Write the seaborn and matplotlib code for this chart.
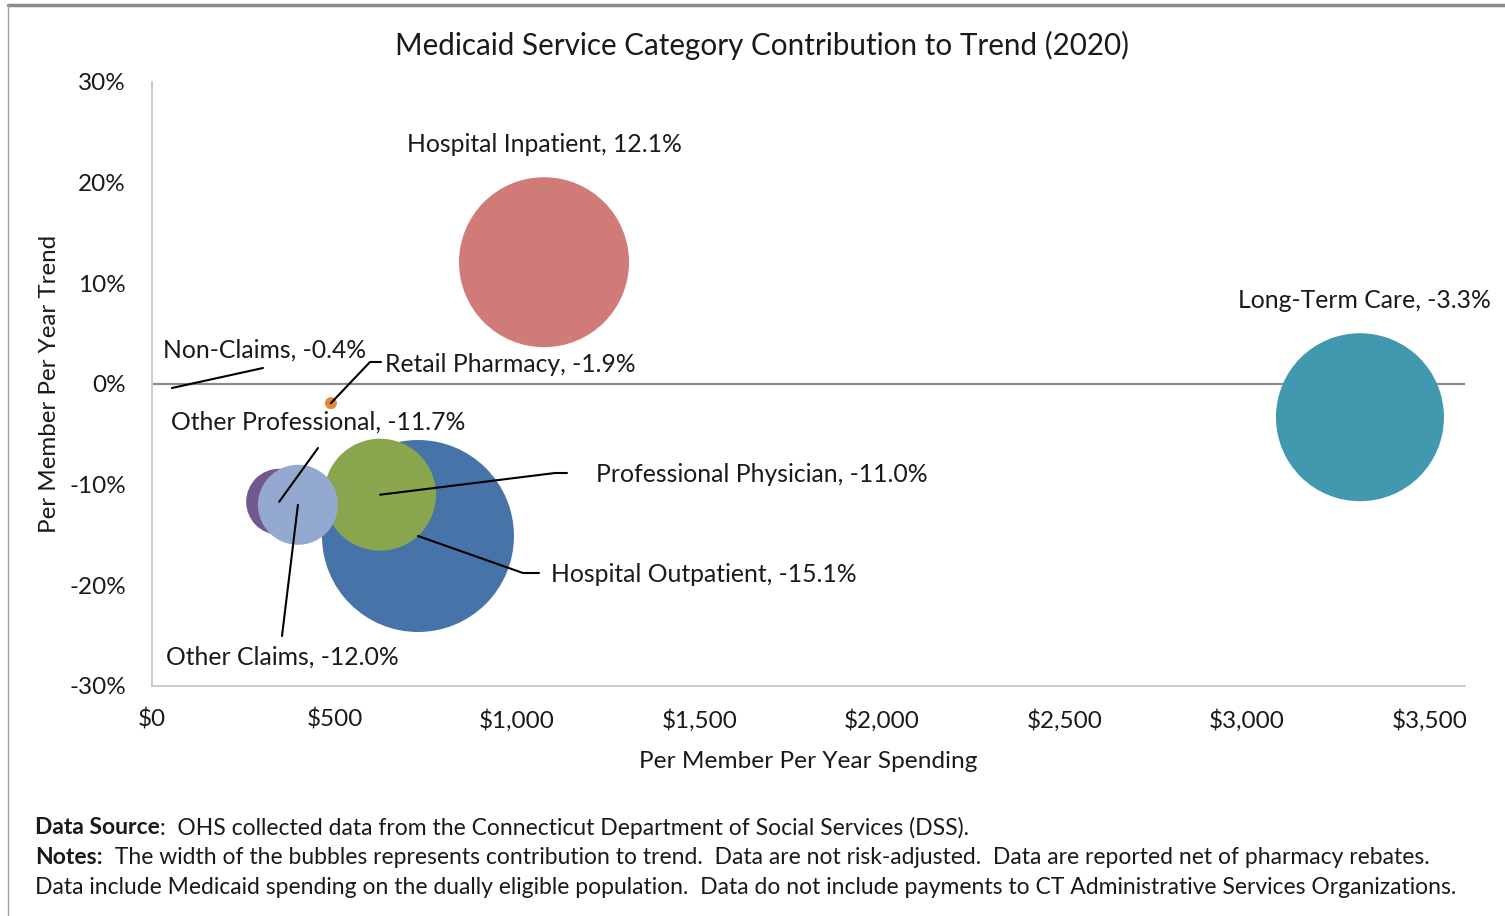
import matplotlib
matplotlib.use("Agg")
import matplotlib.pyplot as plt
import matplotlib.transforms as mtransforms
from matplotlib.lines import Line2D
import pandas as pd
import seaborn as sns

# values
categories = ["Hospital Inpatient", "Hospital Outpatient", "Professional Physician",
              "Other Professional", "Other Claims", "Long-Term Care",
              "Retail Pharmacy", "Non-Claims"]
pmpy_spending = [1045, 709, 608, 339, 389, 3220, 477, 53]
pmpy_trend = [12.1, -15.1, -11.0, -11.7, -12.0, -3.3, -1.9, -0.4]
# bubble width = contribution to trend (relative units, from bubble diameters)
contribution = [1.70, 1.92, 1.12, 0.66, 0.80, 1.68, 0.12, 0.0]
colors = ["#D07B78", "#4674A8", "#89A54E", "#71588F", "#93A9CF", "#4198AF",
          "#E2893B", "#FFFFFF"]

x_ticks = [0, 500, 1000, 1500, 2000, 2500, 3000, 3500]
y_ticks = [-30, -20, -10, 0, 10, 20, 30]

df = pd.DataFrame({"category": categories, "spend": pmpy_spending,
                   "trend": pmpy_trend, "contrib": contribution})
df["area"] = df["contrib"] ** 2

sns.set_theme(style="white")
plt.rcParams["font.family"] = ["Lato", "DejaVu Sans"]
TXT = "#1a1a1a"

W, H = 1505, 916
fig = plt.figure(figsize=(W / 100, H / 100), dpi=100)
ax = fig.add_axes([152 / W, 1 - 686 / H, (1465 - 152) / W, (686 - 82) / H])

# 1 contribution unit = 100 px wide = 72 pt
max_c = max(contribution)
sns.scatterplot(data=df, x="spend", y="trend", hue="category",
                palette=dict(zip(categories, colors)), size="area",
                sizes=(0, (max_c * 72) ** 2), size_norm=(0, max_c ** 2),
                linewidth=0, alpha=1, legend=False, ax=ax, zorder=3)

ax.set_xlim(0, 3500)
ax.set_ylim(-30, 30)
ax.set_xticks(x_ticks)
ax.set_xticklabels([f"${v:,.0f}" for v in x_ticks])
ax.set_yticks(y_ticks)
ax.set_yticklabels([f"{v}%" for v in y_ticks])
ax.tick_params(axis="both", length=0, labelsize=17.5, colors=TXT)
ax.tick_params(axis="x", pad=16.5)
ax.tick_params(axis="y", pad=18.7)
# Excel squeezes the x labels slightly towards the left
for i, t in enumerate(ax.get_xticklabels()):
    t.set_transform(t.get_transform() +
                    mtransforms.ScaledTranslation(-5.1 * i / 100, 0, fig.dpi_scale_trans))
ax.axhline(0, color="#8C8C8C", lw=1.6, zorder=1)
for side in ["top", "right"]:
    ax.spines[side].set_visible(False)
for side in ["left", "bottom"]:
    ax.spines[side].set_color("#C8C8C8")
    ax.spines[side].set_linewidth(1.3)

ax.set_xlabel("Per Member Per Year Spending", fontsize=17.6, color=TXT)
ax.xaxis.set_label_coords((808 - 152) / 1313, (686 - 761) / 604)
ax.xaxis.label.set_va("center")
ax.set_ylabel("Per Member Per Year Trend", fontsize=17.4, color=TXT)
ax.yaxis.set_label_coords((50 - 152) / 1313, 0.5)
ax.yaxis.label.set_va("center")
fig.text(762 / W, 1 - 45 / H, "Medicaid Service Category Contribution to Trend (2020)",
         fontsize=21.3, color=TXT, ha="center", va="center")


def to_data(px, py):
    return ax.transData.inverted().transform((px, H - py))


def leader(i, pts):
    xs = [pmpy_spending[i]]
    ys = [pmpy_trend[i]]
    for p in pts:
        dx, dy = to_data(*p)
        xs.append(dx)
        ys.append(dy)
    ax.plot(xs, ys, color="black", lw=1.5, clip_on=False, zorder=5)


def label(i, px, py, ha="left"):
    dx, dy = to_data(px, py)
    ax.text(dx, dy, f"{categories[i]}, {pmpy_trend[i]:.1f}%", ha=ha, va="center",
            fontsize=17.8, color=TXT, zorder=6)


label(0, 544, 145, ha="center")
label(5, 1238, 301)
label(7, 163, 350)
leader(7, [(263, 368)])
label(6, 385, 364)
leader(6, [(370, 362), (381, 362)])
label(3, 171, 422)
leader(3, [(318, 448)])
label(2, 596, 475)
leader(2, [(555, 473), (567, 473)])
label(1, 551, 575)
leader(1, [(523, 573), (539, 573)])
label(4, 166, 657)
leader(4, [(282, 636)])

# frame around the exhibit
fig.add_artist(Line2D([8 / W, 1], [1 - 5 / H, 1 - 5 / H], color="#8C8C8C", lw=2.5))
fig.add_artist(Line2D([8 / W, 8 / W], [0, 1 - 5 / H], color="#A0A0A0", lw=1.0))

# footnotes
renderer = fig.canvas.get_renderer()
foot = 16.5


def foot_line(py, bold, rest):
    t = fig.text(35 / W, 1 - py / H, bold, fontsize=foot, fontweight="bold",
                 color=TXT, va="center")
    bb = t.get_window_extent(renderer)
    fig.text(bb.x1 / W, 1 - py / H, rest, fontsize=foot, color=TXT, va="center")


foot_line(828, "Data Source",
          ":  OHS collected data from the Connecticut Department of Social Services (DSS).")
foot_line(858, "Notes:",
          "  The width of the bubbles represents contribution to trend.  Data are not "
          "risk-adjusted.  Data are reported net of pharmacy rebates.")
fig.text(35 / W, 1 - 888 / H,
         "Data include Medicaid spending on the dually eligible population.  Data do not "
         "include payments to CT Administrative Services Organizations.",
         fontsize=foot, color=TXT, va="center")

fig.savefig("out.png", dpi=100)
